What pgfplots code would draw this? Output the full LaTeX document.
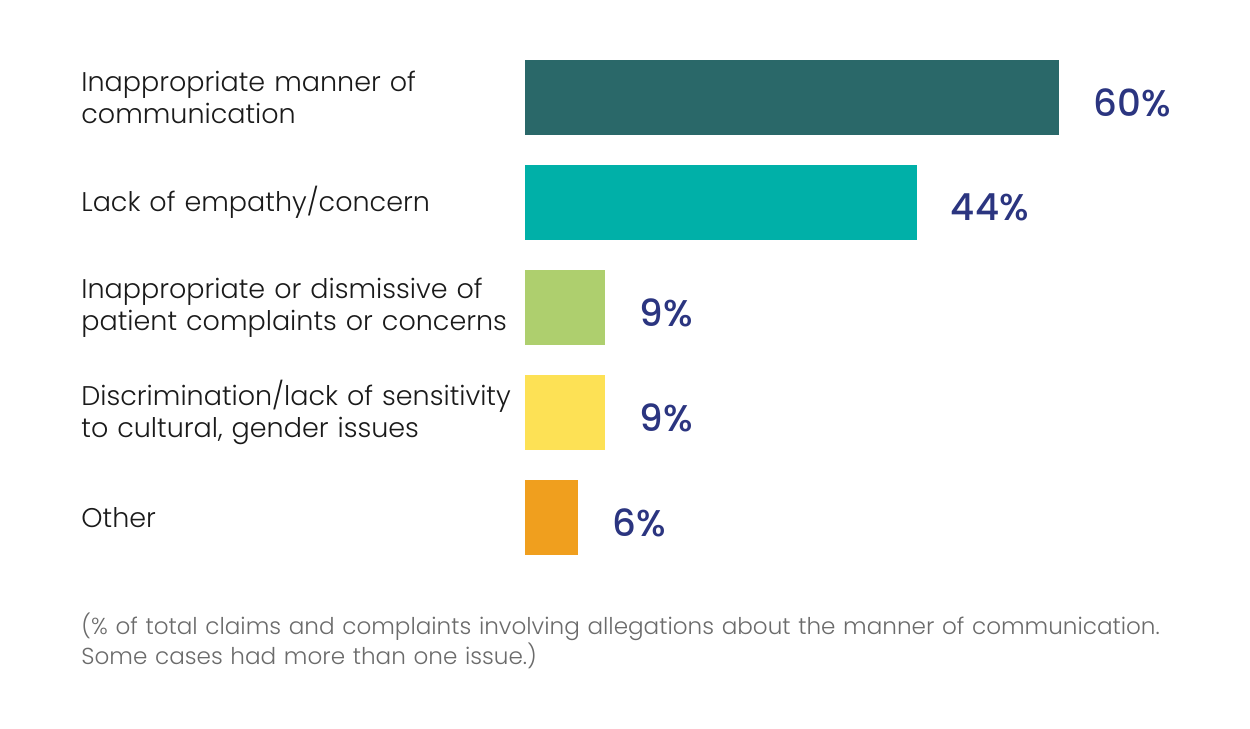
\documentclass[border=0pt]{standalone}
\usepackage{pgfplots}
\pgfplotsset{compat=1.18}
\usepackage{fontspec}
\setmainfont{Poppins}[UprightFont=* Light, BoldFont=* Medium]
\definecolor{c1}{HTML}{2A6869}
\definecolor{c2}{HTML}{00B0A8}
\definecolor{c3}{HTML}{AECF6E}
\definecolor{c4}{HTML}{FDE155}
\definecolor{c5}{HTML}{F09F1E}
\definecolor{navy}{HTML}{2B3580}
\definecolor{lbl}{HTML}{1A1A1A}
\definecolor{note}{HTML}{6B6B6B}
\begin{document}
\begin{tikzpicture}[x=1pt,y=1pt]
\path[use as bounding box] (0,0) rectangle (625,364.5);
\begin{axis}[
  at={(262.5pt,79.5pt)}, anchor=south west,
  scale only axis, width=267pt, height=262.5pt,
  xmin=0, xmax=60, ymin=-0.5, ymax=4.5, y dir=reverse,
  xbar, bar width=37.5pt, bar shift=0pt,
  axis line style={draw=none}, tick style={draw=none},
  major tick length=0pt,
  xtick=\empty, ytick={0,1,2,3,4},
  yticklabels={{Inappropriate manner of\\communication},
               {Lack of empathy/concern},
               {Inappropriate or dismissive of\\patient complaints or concerns},
               {Discrimination/lack of sensitivity\\to cultural, gender issues},
               {Other}},
  yticklabel style={anchor=west, xshift=-222pt, text width=240pt, align=left,
    inner sep=0pt, text=lbl, font=\fontsize{13.5}{16}\selectfont},
  clip=false,
  /pgf/number format/assume math mode=true,
  point meta=x,
  nodes near coords={\pgfmathprintnumber{\pgfplotspointmeta}\%},
  nodes near coords style={anchor=west, xshift=17pt, yshift=-2.5pt, inner sep=0pt,
    text=navy, font=\bfseries\fontsize{18.6}{20}\selectfont},
]
\addplot[fill=c1, draw=none] coordinates {(60,0)};
\addplot[fill=c2, draw=none] coordinates {(44,1)};
\addplot[fill=c3, draw=none] coordinates {(9,2)};
\addplot[fill=c4, draw=none] coordinates {(9,3)};
\addplot[fill=c5, draw=none] coordinates {(6,4)};
\end{axis}
\node[anchor=base west, inner sep=0pt, text width=600pt, align=left, text=note,
  font=\fontsize{11.55}{15}\selectfont] at (40.5,47)
  {(\% of total claims and complaints involving allegations about the manner of communication.\\Some cases had more than one issue.)};
\end{tikzpicture}
\end{document}
